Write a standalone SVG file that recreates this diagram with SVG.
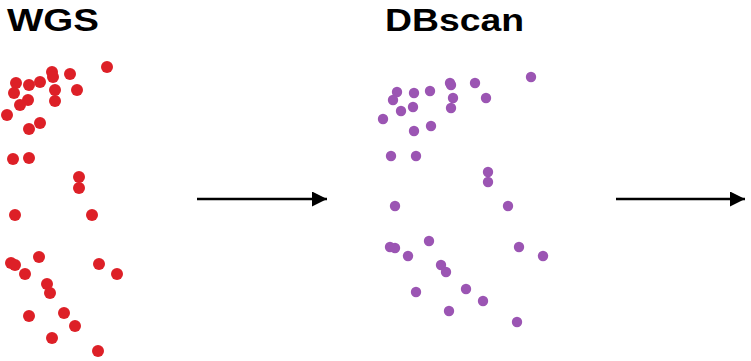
<svg xmlns="http://www.w3.org/2000/svg" width="751" height="361" viewBox="0 0 751 361">
  <style>
    .title { font-family: "Liberation Sans", Arial, sans-serif; font-weight: 700; font-size: 32px; fill: #000; }
    .wgs circle { fill: #dd2027; }
    .db circle { fill: #9b55b3; }
    .link { stroke: #000; stroke-width: 2.6; fill: none; }
  </style>
  <defs>
    <marker id="head" viewBox="0 0 10 10" refX="10" refY="5" markerWidth="15" markerHeight="15" markerUnits="userSpaceOnUse" orient="auto">
      <path d="M0,0 L10,5 L0,10 Z" fill="#000"/>
    </marker>
  </defs>

  <rect width="751" height="361" fill="#fff"/>

  <!-- raw point cloud -->
  <g id="wgs">
    <text class="title" x="7" y="30.5" textLength="92" lengthAdjust="spacingAndGlyphs">WGS</text>
    <g class="wgs">
      <circle cx="107" cy="67" r="6"/>
      <circle cx="52" cy="72" r="6"/>
      <circle cx="53" cy="77" r="6"/>
      <circle cx="70" cy="74" r="6"/>
      <circle cx="16" cy="83" r="6"/>
      <circle cx="29" cy="85" r="6"/>
      <circle cx="40" cy="82" r="6"/>
      <circle cx="14" cy="93" r="6"/>
      <circle cx="55" cy="90" r="6"/>
      <circle cx="55" cy="101" r="6"/>
      <circle cx="77" cy="90" r="6"/>
      <circle cx="28" cy="100" r="6"/>
      <circle cx="20" cy="105" r="6"/>
      <circle cx="7" cy="115" r="6"/>
      <circle cx="40" cy="123" r="6"/>
      <circle cx="29" cy="129" r="6"/>
      <circle cx="13" cy="159" r="6"/>
      <circle cx="29" cy="158" r="6"/>
      <circle cx="79" cy="177" r="6"/>
      <circle cx="79" cy="188" r="6"/>
      <circle cx="15" cy="215" r="6"/>
      <circle cx="92" cy="215" r="6"/>
      <circle cx="11" cy="263" r="6"/>
      <circle cx="15" cy="265" r="6"/>
      <circle cx="39" cy="257" r="6"/>
      <circle cx="25" cy="274" r="6"/>
      <circle cx="47" cy="284" r="6"/>
      <circle cx="50" cy="293" r="6"/>
      <circle cx="99" cy="264" r="6"/>
      <circle cx="117" cy="274" r="6"/>
      <circle cx="29" cy="316" r="6"/>
      <circle cx="64" cy="313" r="6"/>
      <circle cx="75" cy="326" r="6"/>
      <circle cx="52" cy="338" r="6"/>
      <circle cx="98" cy="351" r="6"/>
    </g>
  </g>

  <!-- clustered output -->
  <g id="dbscan">
    <text class="title" x="385" y="30.5" textLength="139" lengthAdjust="spacingAndGlyphs">DBscan</text>
    <g class="db">
      <circle cx="531" cy="77" r="5.2"/>
      <circle cx="450" cy="83" r="5.2"/>
      <circle cx="451" cy="85" r="5.2"/>
      <circle cx="475" cy="83" r="5.2"/>
      <circle cx="430" cy="91" r="5.2"/>
      <circle cx="414" cy="93" r="5.2"/>
      <circle cx="397" cy="92" r="5.2"/>
      <circle cx="393" cy="100" r="5.2"/>
      <circle cx="453" cy="98" r="5.2"/>
      <circle cx="486" cy="98" r="5.2"/>
      <circle cx="413" cy="107" r="5.2"/>
      <circle cx="401" cy="111" r="5.2"/>
      <circle cx="451" cy="108" r="5.2"/>
      <circle cx="383" cy="119" r="5.2"/>
      <circle cx="431" cy="126" r="5.2"/>
      <circle cx="414" cy="131" r="5.2"/>
      <circle cx="391" cy="156" r="5.2"/>
      <circle cx="416" cy="156" r="5.2"/>
      <circle cx="488" cy="172" r="5.2"/>
      <circle cx="488" cy="182" r="5.2"/>
      <circle cx="395" cy="206" r="5.2"/>
      <circle cx="508" cy="206" r="5.2"/>
      <circle cx="390" cy="247" r="5.2"/>
      <circle cx="395" cy="248" r="5.2"/>
      <circle cx="429" cy="241" r="5.2"/>
      <circle cx="519" cy="247" r="5.2"/>
      <circle cx="408" cy="256" r="5.2"/>
      <circle cx="543" cy="256" r="5.2"/>
      <circle cx="441" cy="265" r="5.2"/>
      <circle cx="446" cy="272" r="5.2"/>
      <circle cx="416" cy="292" r="5.2"/>
      <circle cx="466" cy="289" r="5.2"/>
      <circle cx="483" cy="301" r="5.2"/>
      <circle cx="449" cy="311" r="5.2"/>
      <circle cx="517" cy="322" r="5.2"/>
    </g>
  </g>

  <!-- flow arrows -->
  <g id="connectors">
    <line class="link" x1="197" y1="199" x2="327" y2="199" marker-end="url(#head)"/>
    <line class="link" x1="616" y1="199" x2="745" y2="199" marker-end="url(#head)"/>
  </g>
</svg>
